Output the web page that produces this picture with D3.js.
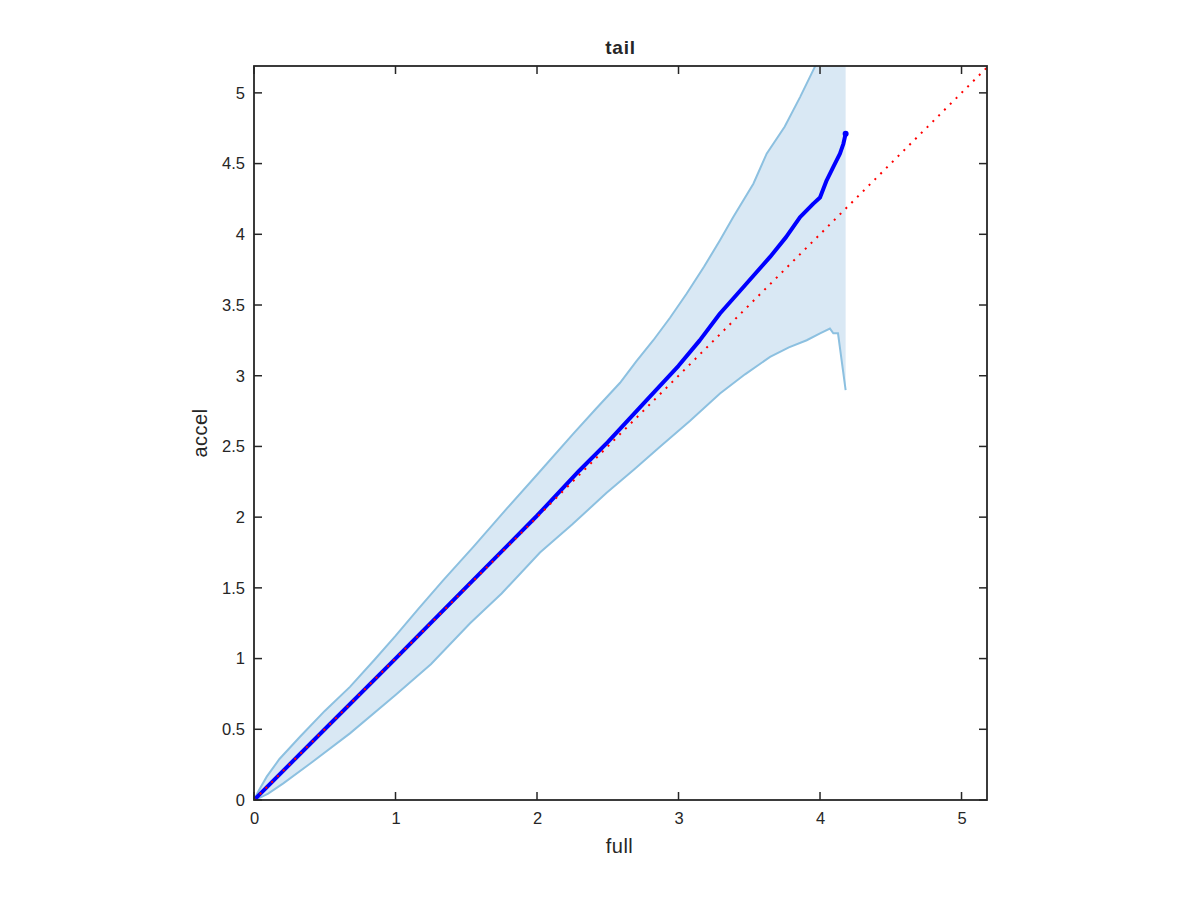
<!DOCTYPE html>
<html>
<head>
<meta charset="utf-8">
<script src="https://cdn.jsdelivr.net/npm/d3@7"></script>
<style>
  html, body { margin: 0; padding: 0; background: #fff; }
  svg { display: block; }
  text { font-family: "Liberation Sans", Arial, Helvetica, sans-serif; fill: #262626; }
</style>
</head>
<body>
<svg id="chart" width="1200" height="900"></svg>
<script>
// ---- data ----
const titleText = "tail";
const xLabelText = "full";
const yLabelText = "accel";

const xTicks = [0, 1, 2, 3, 4, 5];
const yTicks = [0, 0.5, 1, 1.5, 2, 2.5, 3, 3.5, 4, 4.5, 5];
const xDomain = [0, 5.18];
const yDomain = [0, 5.19];

// upper bound of the shaded band
const upperX = [0, 0.03, 0.09, 0.18, 0.325, 0.5, 0.678, 0.85, 1.0, 1.16, 1.338, 1.55, 1.786, 2.0, 2.257, 2.42, 2.587, 2.70, 2.822, 2.94, 3.058, 3.18, 3.293, 3.387, 3.529, 3.623, 3.75, 3.859, 3.965, 4.08, 4.181];
const upperY = [0, 0.06, 0.165, 0.29, 0.447, 0.63, 0.80, 0.99, 1.16, 1.35, 1.555, 1.79, 2.06, 2.30, 2.59, 2.77, 2.95, 3.10, 3.251, 3.41, 3.581, 3.77, 3.958, 4.122, 4.358, 4.57, 4.76, 4.97, 5.187, 5.40, 5.62];

// lower bound of the shaded band
const lowerX = [0, 0.05, 0.1, 0.207, 0.4, 0.678, 1.0, 1.25, 1.527, 1.75, 2.021, 2.25, 2.49, 2.69, 2.869, 3.08, 3.293, 3.47, 3.647, 3.78, 3.906, 4.0, 4.07, 4.094, 4.127, 4.181];
const lowerY = [0, 0.02, 0.045, 0.118, 0.26, 0.471, 0.742, 0.96, 1.25, 1.46, 1.75, 1.95, 2.17, 2.34, 2.497, 2.68, 2.874, 3.01, 3.133, 3.20, 3.251, 3.30, 3.333, 3.30, 3.30, 2.898];

// median (thick blue) curve
const medX = [0, 0.5, 1.0, 1.5, 2.0, 2.3, 2.5, 2.775, 3.0, 3.15, 3.293, 3.47, 3.647, 3.76, 3.859, 3.953, 4.0, 4.047, 4.094, 4.141, 4.165, 4.181];
const medY = [0, 0.5, 1.0, 1.505, 2.01, 2.33, 2.53, 2.827, 3.07, 3.25, 3.44, 3.64, 3.84, 3.98, 4.122, 4.217, 4.26, 4.382, 4.476, 4.57, 4.64, 4.711];

// reference line y = x
const refX = [0, 5.18];
const refY = [0, 5.18];

// ---- layout ----
const svg = d3.select("#chart");
const plot = { left: 254, top: 66, right: 987, bottom: 800 };

const x = d3.scaleLinear().domain(xDomain).range([plot.left, plot.right]);
const y = d3.scaleLinear().domain(yDomain).range([plot.bottom, plot.top]);

const axisColor = "#262626";

svg.append("defs").append("clipPath").attr("id", "plotClip")
  .append("rect")
  .attr("x", plot.left).attr("y", plot.top)
  .attr("width", plot.right - plot.left).attr("height", plot.bottom - plot.top);

const g = svg.append("g").attr("clip-path", "url(#plotClip)");

const upperPts = upperX.map((v, i) => [v, upperY[i]]);
const lowerPts = lowerX.map((v, i) => [v, lowerY[i]]);
const medPts = medX.map((v, i) => [v, medY[i]]);
const refPts = refX.map((v, i) => [v, refY[i]]);

const line = d3.line().x(d => x(d[0])).y(d => y(d[1]));

// shaded band
const bandPts = upperPts.concat(lowerPts.slice().reverse());
g.append("path")
  .attr("d", line(bandPts) + "Z")
  .attr("fill", "#d9e8f4")
  .attr("stroke", "none");

// band boundaries
g.append("path").attr("d", line(upperPts))
  .attr("fill", "none").attr("stroke", "#8cc0e0").attr("stroke-width", 2);
g.append("path").attr("d", line(lowerPts))
  .attr("fill", "none").attr("stroke", "#8cc0e0").attr("stroke-width", 2);

// median curve
g.append("path").attr("d", line(medPts))
  .attr("fill", "none").attr("stroke", "#0000ff").attr("stroke-width", 4)
  .attr("stroke-linejoin", "round").attr("stroke-linecap", "round");
g.append("circle")
  .attr("cx", x(medX[medX.length - 1])).attr("cy", y(medY[medY.length - 1]))
  .attr("r", 3).attr("fill", "#0000ff");
g.append("circle")
  .attr("cx", x(medX[0])).attr("cy", y(medY[0]))
  .attr("r", 3).attr("fill", "#0000ff");

// reference dotted line
g.append("path").attr("d", line(refPts))
  .attr("fill", "none").attr("stroke", "#ff0000").attr("stroke-width", 2)
  .attr("stroke-dasharray", "2,6.2");

// ---- axes ----
const tickLen = 8;
const axes = svg.append("g");

const xAxisB = d3.axisBottom(x).tickValues(xTicks).tickSize(0).tickPadding(12).tickFormat(d3.format("~g"));
const yAxisL = d3.axisLeft(y).tickValues(yTicks).tickSize(0).tickPadding(9).tickFormat(d3.format("~g"));

const gx = axes.append("g").attr("transform", `translate(0,${plot.bottom})`).call(xAxisB);
const gy = axes.append("g").attr("transform", `translate(${plot.left},0)`).call(yAxisL);
[gx, gy].forEach(a => {
  a.select(".domain").remove();
  a.selectAll("text").attr("font-size", 16.5).attr("fill", axisColor)
    .style("font-family", "'Liberation Sans', Arial, sans-serif");
});

// inward ticks on all four sides
xTicks.forEach(t => {
  axes.append("line").attr("x1", x(t)).attr("x2", x(t))
    .attr("y1", plot.bottom).attr("y2", plot.bottom - tickLen)
    .attr("stroke", axisColor).attr("stroke-width", 1.5);
  axes.append("line").attr("x1", x(t)).attr("x2", x(t))
    .attr("y1", plot.top).attr("y2", plot.top + tickLen)
    .attr("stroke", axisColor).attr("stroke-width", 1.5);
});
yTicks.forEach(t => {
  axes.append("line").attr("x1", plot.left).attr("x2", plot.left + tickLen)
    .attr("y1", y(t)).attr("y2", y(t))
    .attr("stroke", axisColor).attr("stroke-width", 1.5);
  axes.append("line").attr("x1", plot.right).attr("x2", plot.right - tickLen)
    .attr("y1", y(t)).attr("y2", y(t))
    .attr("stroke", axisColor).attr("stroke-width", 1.5);
});

// box
axes.append("rect")
  .attr("x", plot.left).attr("y", plot.top)
  .attr("width", plot.right - plot.left).attr("height", plot.bottom - plot.top)
  .attr("fill", "none").attr("stroke", axisColor).attr("stroke-width", 1.8);

// title and labels
svg.append("text").attr("x", (plot.left + plot.right) / 2).attr("y", 54)
  .attr("text-anchor", "middle").attr("font-size", 19).attr("font-weight", "bold")
  .attr("letter-spacing", 0.8)
  .attr("fill", "#000").text(titleText);
svg.append("text").attr("x", (plot.left + plot.right) / 2 - 1).attr("y", 853)
  .attr("text-anchor", "middle").attr("font-size", 20).attr("letter-spacing", 0.5).text(xLabelText);
svg.append("text").attr("transform", `translate(207,${(plot.top + plot.bottom) / 2}) rotate(-90)`)
  .attr("text-anchor", "middle").attr("font-size", 20).attr("letter-spacing", 0.5).text(yLabelText);
</script>
</body>
</html>
